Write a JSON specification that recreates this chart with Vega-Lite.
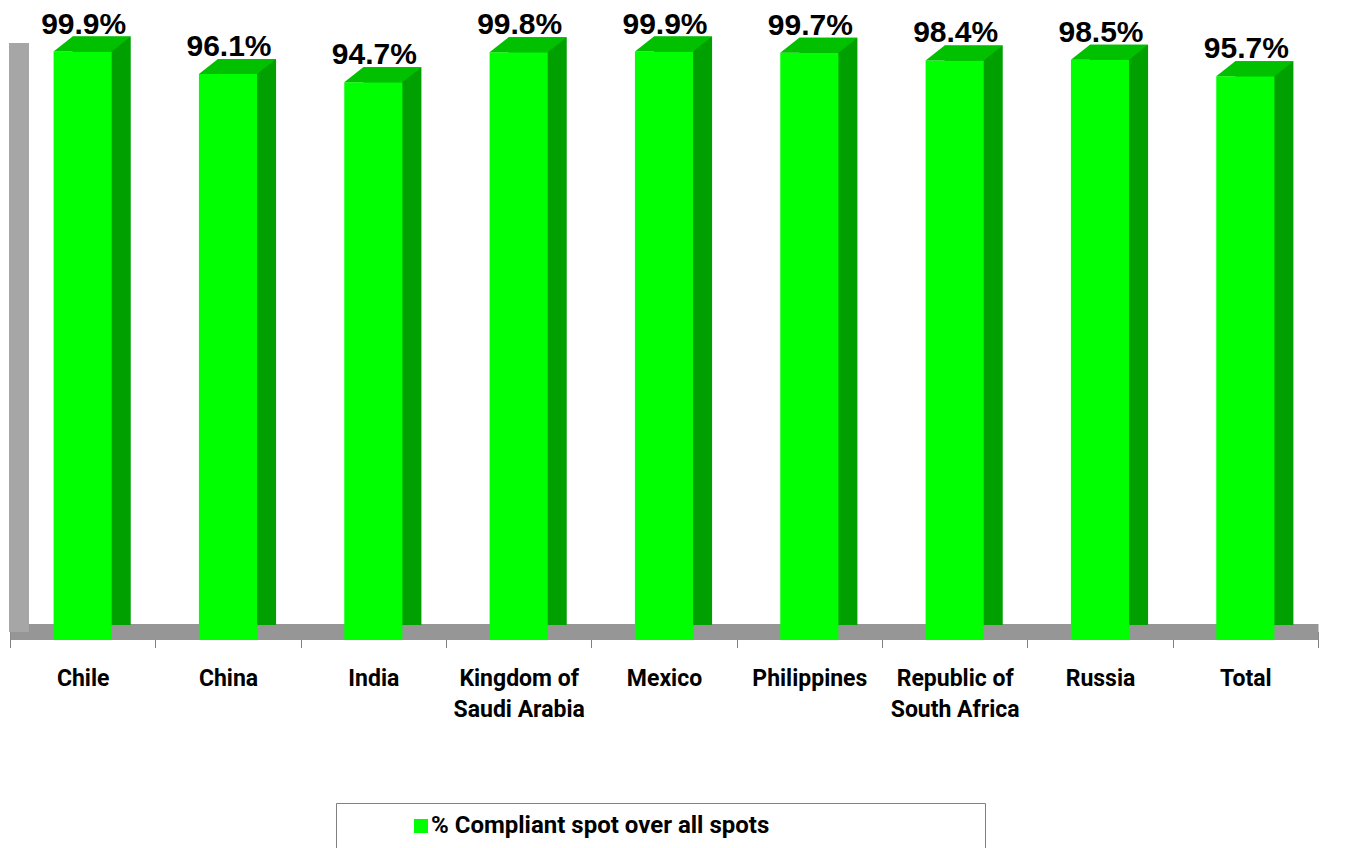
{
  "$schema": "https://vega.github.io/schema/vega-lite/v6.json",
  "autosize": {"type": "none"},
  "width": 1308,
  "height": 589,
  "padding": {"left": 10, "top": 51, "right": 30, "bottom": 208},
  "background": "white",
  "data": {
    "values": [
      {"country": "Chile", "value": 0.999, "series": "% Compliant spot over all spots"},
      {"country": "China", "value": 0.961, "series": "% Compliant spot over all spots"},
      {"country": "India", "value": 0.947, "series": "% Compliant spot over all spots"},
      {"country": "Kingdom of Saudi Arabia", "value": 0.998, "series": "% Compliant spot over all spots"},
      {"country": "Mexico", "value": 0.999, "series": "% Compliant spot over all spots"},
      {"country": "Philippines", "value": 0.997, "series": "% Compliant spot over all spots"},
      {"country": "Republic of South Africa", "value": 0.984, "series": "% Compliant spot over all spots"},
      {"country": "Russia", "value": 0.985, "series": "% Compliant spot over all spots"},
      {"country": "Total", "value": 0.957, "series": "% Compliant spot over all spots"}
    ]
  },
  "encoding": {
    "x": {
      "field": "country",
      "type": "nominal",
      "sort": null,
      "scale": {"paddingInner": 0, "paddingOuter": 0},
      "axis": {
        "title": null,
        "domainColor": "#969696",
        "domainWidth": 16,
        "offset": -8.5,
        "tickBand": "extent",
        "tickSize": 16,
        "tickColor": "#808080",
        "tickWidth": 1,
        "labelAngle": 0,
        "labelFont": "Roboto",
        "labelFontWeight": "bold",
        "labelFontSize": 23,
        "labelColor": "black",
        "labelPadding": 20,
        "labelLineHeight": 31,
        "labelLimit": 0,
        "labelExpr": "datum.label == 'Kingdom of Saudi Arabia' ? ['Kingdom of', 'Saudi Arabia'] : datum.label == 'Republic of South Africa' ? ['Republic of', 'South Africa'] : datum.label"
      }
    }
  },
  "layer": [
    {
      "mark": {"type": "bar", "color": "#00A000", "width": {"band": 0.4}, "xOffset": 19, "yOffset": -15, "y2Offset": -15},
      "encoding": {
        "y": {
          "field": "value",
          "type": "quantitative",
          "scale": {"domain": [0, 1], "nice": false},
          "axis": {
            "title": null,
            "labels": false,
            "ticks": false,
            "grid": false,
            "domainColor": "#a6a6a6",
            "domainWidth": 20,
            "offset": -17,
            "translate": -8
          }
        }
      }
    },
    {
      "mark": {"type": "bar", "width": {"band": 0.4}},
      "encoding": {
        "y": {"field": "value", "type": "quantitative"},
        "color": {
          "field": "series",
          "type": "nominal",
          "scale": {"range": ["#00FF00"]},
          "legend": {
            "orient": "none",
            "legendX": 326,
            "legendY": 752,
            "padding": 11,
            "strokeColor": "#808080",
            "symbolType": "square",
            "symbolSize": 196,
            "symbolStrokeWidth": 0,
            "symbolOffset": 62,
            "labelFont": "Roboto",
            "labelFontWeight": "bold",
            "labelFontSize": 24,
            "labelColor": "black",
            "labelOffset": -2,
            "labelLimit": 0,
            "labelExpr": "datum.label + '\u2800\u2800\u2800\u2800\u2800\u2800\u2800\u2800\u2800\u2800\u00a0\u2800'",
            "title": null
          }
        }
      }
    },
    {
      "mark": {
        "type": "point",
        "shape": "M -0.582 0 L 0.582 0 L 0.962 -0.3 L -0.202 -0.3 Z",
        "size": 10000,
        "filled": true,
        "color": "#00C000",
        "opacity": 1,
        "strokeWidth": 0
      },
      "encoding": {
        "y": {"field": "value", "type": "quantitative"}
      }
    },
    {
      "mark": {"type": "rule", "color": "black", "strokeWidth": 2.5},
      "encoding": {
        "y": {"datum": 0, "type": "quantitative"}
      }
    },
    {
      "mark": {
        "type": "text",
        "font": "Liberation Sans",
        "fontWeight": "bold",
        "fontSize": 30,
        "color": "black",
        "baseline": "alphabetic",
        "dy": -18,
        "dx": 1
      },
      "encoding": {
        "y": {"field": "value", "type": "quantitative"},
        "text": {"field": "value", "type": "quantitative", "format": ".1%"}
      }
    }
  ],
  "config": {
    "view": {"stroke": null}
  }
}
